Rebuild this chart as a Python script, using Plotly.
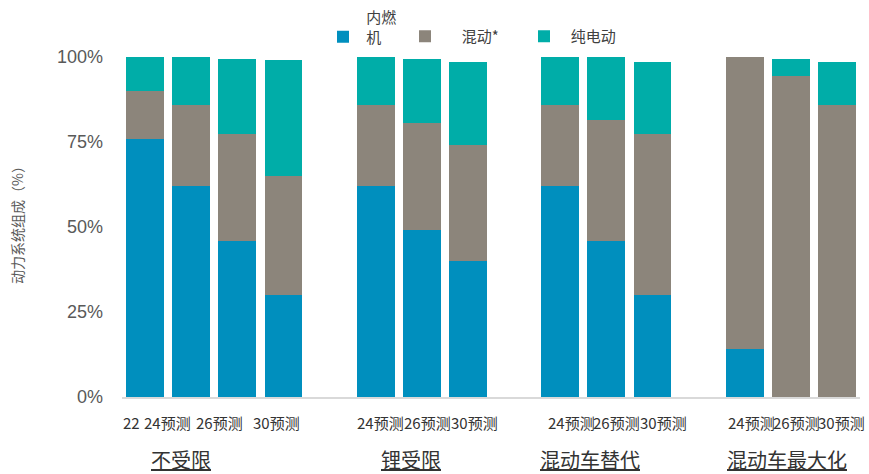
import plotly.graph_objects as go

# Powertrain mix scenarios (share of sales, %)
scenarios = ["不受限", "锂受限", "混动车替代", "混动车最大化"]
periods = [
    ["22", "24预测", "26预测", "30预测"],
    ["24预测", "26预测", "30预测"],
    ["24预测", "26预测", "30预测"],
    ["24预测", "26预测", "30预测"],
]
ice = [76, 62, 46, 30, 62, 49, 40, 62, 46, 30, 14, 0, 0]
hybrid = [14, 24, 31.5, 35, 24, 31.5, 34, 24, 35.5, 47.5, 86, 94.5, 86]
bev = [10, 14, 22, 34, 14, 19, 24.5, 14, 18.5, 21, 0, 5, 12.5]

series_names = ["内燃<br>机", "混动*", "纯电动"]
series_colors = ["#008FBE", "#8C857B", "#00ADA8"]
y_title = "动力系统组成（%）"

# Slot positions: one empty slot between scenario groups
x_pos = []
group_centers = []
slot = 0
for g, per in enumerate(periods):
    start = slot
    for _ in per:
        x_pos.append(slot)
        slot += 1
    group_centers.append((start + slot - 1) / 2)
    slot += 1
tick_text = [p for per in periods for p in per]

CJK = "Noto Sans CJK SC, Liberation Sans, sans-serif"
NB = "\u00a0"
W, H = 869, 474
L_MARGIN, R_MARGIN = 122, 9

# Each series gets its own legend box so the three keys can sit on one line
legend_ids = ["legend", "legend2", "legend3"]
legend_pad = [1, 5, 2]
fig = go.Figure()
for name, vals, col, lid, pad in zip(series_names, [ice, hybrid, bev],
                                     series_colors, legend_ids, legend_pad):
    label = "<br>".join(NB * pad + part for part in name.split("<br>"))
    fig.add_trace(go.Bar(
        x=x_pos, y=vals, name=label, width=0.82, legend=lid,
        marker=dict(color=col, line=dict(width=0)),
    ))

# Period labels under each bar
tick_shift = [-14, -24, -18, -7, 5, 6, 7, 11, 10, 11, 7, 6, 5]
for xv, txt, dx in zip(x_pos, tick_text, tick_shift):
    fig.add_annotation(
        x=xv, y=0, xref="x", yref="paper", yanchor="middle", yshift=-25,
        xshift=dx, text=txt, showarrow=False,
        font=dict(family=CJK, size=15, color="#333333"),
    )

# Scenario labels, underlined
group_shift = [-33, -11, -16, -4]
for xc, txt, dx in zip(group_centers, scenarios, group_shift):
    fig.add_annotation(
        x=xc, y=0, xref="x", yref="paper", yanchor="middle", yshift=-62,
        xshift=dx, text="<u>" + txt + "</u>", showarrow=False,
        font=dict(family=CJK, size=20, color="#333333"),
    )

# Vertical axis title
fig.add_annotation(
    x=(17 - L_MARGIN) / (W - L_MARGIN - R_MARGIN), y=0.5,
    xref="paper", yref="paper", xanchor="center", yanchor="middle",
    yshift=5, text=y_title, textangle=-90, showarrow=False,
    font=dict(family=CJK, size=14, color="#595959"),
)

legend_font = dict(family=CJK, size=15, color="#404040")


def legend_box(left_px, top_px, valign):
    return dict(
        xref="container", yref="container",
        x=left_px / W, xanchor="left", y=1 - top_px / H, yanchor="top",
        valign=valign, font=legend_font, itemclick=False,
        bgcolor="rgba(0,0,0,0)",
    )


fig.update_layout(
    width=W, height=H,
    margin=dict(l=L_MARGIN, r=R_MARGIN, t=57, b=77, autoexpand=False),
    barmode="stack",
    bargap=0,
    plot_bgcolor="white", paper_bgcolor="white",
    showlegend=True,
    legend=legend_box(323, 1, "bottom"),
    legend2=legend_box(405, 20, "middle"),
    legend3=legend_box(524, 20, "middle"),
    xaxis=dict(
        range=[-0.5, 15.5], showticklabels=False, showgrid=False,
        zeroline=False, showline=True, linecolor="#D9D9D9", linewidth=2,
        ticks="",
    ),
    yaxis=dict(
        range=[0, 100], tickvals=[0, 25, 50, 75, 100],
        ticktext=["0%", "25%", "50%", "75%", "100%"],
        showgrid=False, zeroline=False, showline=False, ticks="",
        ticklabelstandoff=18,
        tickfont=dict(family="Liberation Sans, Arial, sans-serif", size=18, color="#595959"),
    ),
)

fig.write_html("out.html")
